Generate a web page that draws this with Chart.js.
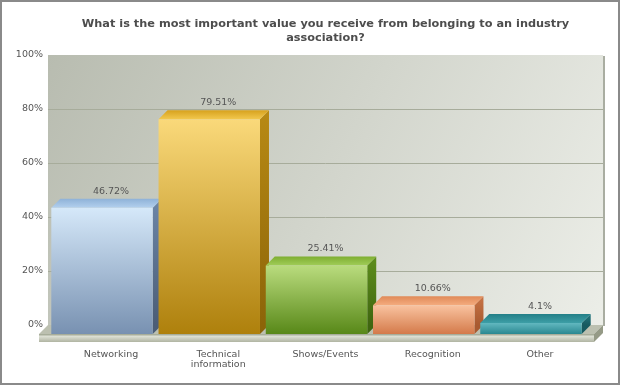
<!DOCTYPE html>
<html><head><meta charset="utf-8">
<script src="https://cdn.jsdelivr.net/npm/chart.js@4/dist/chart.umd.min.js"></script>
<style>html,body{margin:0;padding:0;background:#fff}canvas{display:block}</style>
</head><body>
<canvas id="c" width="620" height="385"></canvas>
<script>
// ---- data ----
const titleLines = ['What is the most important value you receive from belonging to an industry', 'association?'];
const categories = [['Networking'], ['Technical', 'information'], ['Shows/Events'], ['Recognition'], ['Other']];
const values = [46.72, 79.51, 25.41, 10.66, 4.1];
const yTicks = [0, 20, 40, 60, 80, 100];
const tickSuffix = '%';

// ---- styles ----
const frontTop    = ['#d5e8f9', '#fad97a', '#badc7e', '#f9c3a0', '#62b8c0'];
const frontBottom = ['#7891b1', '#ae800c', '#588818', '#d47a4a', '#2a8891'];
const topBack     = ['#8fb2d8', '#d7a21e', '#7eae30', '#e08a58', '#237f87'];
const topFront    = ['#b3d0ee', '#f2c84e', '#a0cc58', '#f4ab7e', '#3d9ea6'];
const sideTop     = ['#6c86a8', '#b88a14', '#5e8e1c', '#c87446', '#237880'];
const sideBottom  = ['#4b5d76', '#8c6408', '#3f6610', '#a85a30', '#165a60'];
const DX = 9, DY = 9, FLOOR_H = 8;
const FONT = 'DejaVu Sans';
const TEXT = '#555555';

const threeD = {
  id: 'threeD',
  beforeDraw(chart) {
    const {ctx, chartArea: a, scales: {y}} = chart;
    ctx.save();
    ctx.fillStyle = '#ffffff';
    ctx.fillRect(0, 0, chart.width, chart.height);
    const wl = Math.round(a.left - DX), wr = Math.round(a.right + DX), wt = Math.round(a.top), wb = Math.round(a.bottom);
    // back wall
    let g = ctx.createLinearGradient(wl, wt, wr, wb);
    g.addColorStop(0, '#b8bcb0');
    g.addColorStop(1, '#eceee8');
    ctx.fillStyle = g;
    ctx.fillRect(wl, wt, wr - wl, wb - wt);
    ctx.fillStyle = '#a9ada1';
    ctx.fillRect(wr, wt + 1, 2, wb - wt);
    // grid lines
    ctx.strokeStyle = '#a7ac9b';
    ctx.lineWidth = 1;
    yTicks.forEach(t => {
      if (t === yTicks[0] || t === yTicks[yTicks.length - 1]) return;
      const py = Math.round(y.getPixelForValue(t)) + 0.5;
      ctx.beginPath(); ctx.moveTo(wl, py); ctx.lineTo(wr, py); ctx.stroke();
    });
    // floor top face
    ctx.fillStyle = '#bcc0b0';
    ctx.beginPath();
    ctx.moveTo(wl, wb); ctx.lineTo(wr, wb); ctx.lineTo(wr - DX, wb + DY); ctx.lineTo(wl - DX, wb + DY);
    ctx.closePath(); ctx.fill();
    // floor front face
    g = ctx.createLinearGradient(0, wb + DY, 0, wb + DY + FLOOR_H);
    g.addColorStop(0, '#9aa08b');
    g.addColorStop(0.3, '#dcdfd3');
    g.addColorStop(1, '#b0b4a2');
    ctx.fillStyle = g;
    ctx.fillRect(wl - DX, wb + DY, wr - wl, FLOOR_H);
    // floor right side
    ctx.fillStyle = '#959a86';
    ctx.beginPath();
    ctx.moveTo(wr - DX, wb + DY); ctx.lineTo(wr, wb); ctx.lineTo(wr, wb + FLOOR_H); ctx.lineTo(wr - DX, wb + DY + FLOOR_H);
    ctx.closePath(); ctx.fill();
    ctx.restore();
  },
  beforeDatasetsDraw(chart) {
    const ctx = chart.ctx;
    const meta = chart.getDatasetMeta(0);
    ctx.save();
    meta.data.forEach((bar, i) => {
      const {x, y, base, width} = bar.getProps(['x', 'y', 'base', 'width'], true);
      const l = x - width / 2, r = x + width / 2;
      // side face
      let g = ctx.createLinearGradient(0, y, 0, base);
      g.addColorStop(0, sideTop[i]); g.addColorStop(1, sideBottom[i]);
      ctx.fillStyle = g;
      ctx.beginPath();
      ctx.moveTo(r - DX, y + DY); ctx.lineTo(r, y); ctx.lineTo(r, base); ctx.lineTo(r - DX, base + DY);
      ctx.closePath(); ctx.fill();
      // top face
      g = ctx.createLinearGradient(0, y, 0, y + DY);
      g.addColorStop(0, topBack[i]); g.addColorStop(1, topFront[i]);
      ctx.fillStyle = g;
      ctx.beginPath();
      ctx.moveTo(l - DX, y + DY); ctx.lineTo(r - DX, y + DY); ctx.lineTo(r, y); ctx.lineTo(l, y);
      ctx.closePath(); ctx.fill();
    });
    ctx.restore();
    ctx.save();
    ctx.translate(-DX, DY);
  },
  afterDatasetsDraw(chart) {
    const ctx = chart.ctx;
    ctx.restore();
    const meta = chart.getDatasetMeta(0);
    ctx.save();
    ctx.font = '9.5px "' + FONT + '"';
    ctx.fillStyle = TEXT;
    ctx.textAlign = 'center';
    ctx.textBaseline = 'bottom';
    meta.data.forEach((bar, i) => {
      ctx.fillText(values[i] + tickSuffix, bar.x, bar.y - 3);
    });
    ctx.restore();
  },
  afterDraw(chart) {
    const ctx = chart.ctx;
    ctx.save();
    ctx.strokeStyle = '#8a8a8a';
    ctx.lineWidth = 2;
    ctx.strokeRect(1, 1, chart.width - 2, chart.height - 2);
    ctx.restore();
  }
};

new Chart(document.getElementById('c'), {
  type: 'bar',
  data: {
    labels: categories,
    datasets: [{
      data: values,
      clip: false,
      borderWidth: 0,
      barPercentage: 0.946,
      categoryPercentage: 1,
      backgroundColor(c) {
        const chart = c.chart;
        if (!chart.chartArea || c.dataIndex === undefined) return frontTop[0];
        const y = chart.scales.y;
        const g = chart.ctx.createLinearGradient(0, y.getPixelForValue(c.raw), 0, y.getPixelForValue(0));
        g.addColorStop(0, frontTop[c.dataIndex]);
        g.addColorStop(1, frontBottom[c.dataIndex]);
        return g;
      }
    }]
  },
  options: {
    responsive: false,
    animation: false,
    devicePixelRatio: 1,
    layout: {padding: 0},
    plugins: {
      legend: {display: false},
      tooltip: {enabled: false},
      title: {
        display: true,
        fullSize: false,
        text: titleLines,
        color: '#4d4d4d',
        font: {family: FONT, size: 11.3, weight: 'bold', lineHeight: 1.24},
        padding: {top: 17.5, bottom: 9.5}
      }
    },
    scales: {
      x: {
        grid: {display: false, drawTicks: false},
        border: {display: false},
        ticks: {color: TEXT, font: {family: FONT, size: 9.5, lineHeight: 1.1}, padding: 24, maxRotation: 0, autoSkip: false},
        afterFit(s) { s.height = 60; }
      },
      y: {
        min: 0, max: 100,
        grid: {display: false, drawTicks: false},
        border: {display: false},
        afterBuildTicks(s) { s.ticks = yTicks.map(v => ({value: v})); },
        ticks: {color: TEXT, font: {family: FONT, size: 9.5}, padding: 14.4, callback: v => v + tickSuffix},
        afterFit(s) { s.width = 57.4; }
      },
      y2: {
        position: 'right',
        display: true,
        grid: {display: false, drawTicks: false},
        border: {display: false},
        ticks: {display: false},
        afterFit(s) { s.width = 26.4; }
      }
    }
  },
  plugins: [threeD]
});
</script>
</body></html>
